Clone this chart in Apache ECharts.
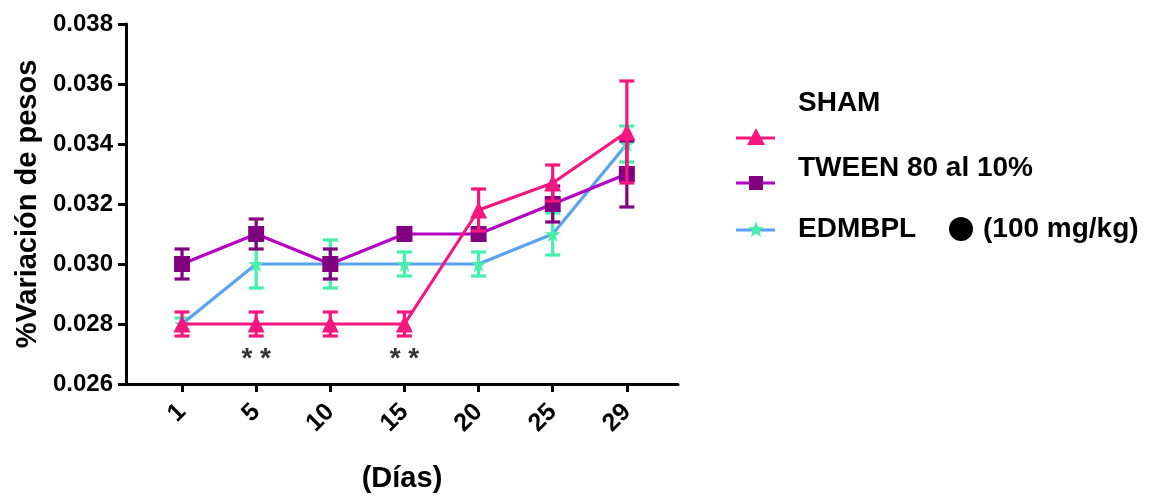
<!DOCTYPE html>
<html>
<head>
<meta charset="utf-8">
<script src="https://cdn.jsdelivr.net/npm/echarts@6/dist/echarts.min.js"></script>
<style>
  html, body { margin: 0; padding: 0; background: #fff; }
  #chart { width: 1153px; height: 495px; }
</style>
</head>
<body>
<div id="chart"></div>
<script>
// Days of measurement
const days = ['1', '5', '10', '15', '20', '25', '29'];

// Mean weight variation per group
const shamMean   = [0.0280, 0.0280, 0.0280, 0.0280, 0.0318, 0.0327, 0.0344];
const tweenMean  = [0.0300, 0.0310, 0.0300, 0.0310, 0.0310, 0.0320, 0.0330];
const edmbplMean = [0.0280, 0.0300, 0.0300, 0.0300, 0.0300, 0.0310, 0.0340];

// Error (±) per group
const shamErr   = [0.0004, 0.0004, 0.0004, 0.0004, 0.0007, 0.0006, 0.0017];
const tweenErr  = [0.0005, 0.0005, 0.0005, 0.0002, 0.0002, 0.0006, 0.0011];
const edmbplErr = [0.0002, 0.0008, 0.0008, 0.0004, 0.0004, 0.0007, 0.0006];

// Significance marks
const sigDays  = [1, 3];
const sigLevel = [0.0270, 0.0270];
const sigText  = ['* *', '* *'];

const FONT = 'Liberation Sans, Arial, sans-serif';

const pts = arr => arr.map((v, i) => [i, v]);
const errRows = (mean, err) => mean.map((m, i) => [i, m - err[i], m + err[i]]);

function errorSeries(name, mean, err, color, z) {
  return {
    name: name + ' error',
    type: 'custom',
    z: z,
    data: errRows(mean, err),
    renderItem: (params, api) => {
      const x = api.value(0);
      const lo = api.coord([x, api.value(1)]);
      const hi = api.coord([x, api.value(2)]);
      const hw = 7.5;
      const style = { stroke: color, lineWidth: 3.2 };
      return {
        type: 'group',
        children: [
          { type: 'line', shape: { x1: lo[0], y1: lo[1], x2: hi[0], y2: hi[1] }, style },
          { type: 'line', shape: { x1: lo[0] - hw, y1: lo[1], x2: lo[0] + hw, y2: lo[1] }, style },
          { type: 'line', shape: { x1: hi[0] - hw, y1: hi[1], x2: hi[0] + hw, y2: hi[1] }, style }
        ]
      };
    }
  };
}

function lineSeries(name, mean, lineColor, markColor, symbol, size, z) {
  return {
    name: name,
    type: 'line',
    z: z,
    data: pts(mean),
    symbol: symbol,
    symbolSize: size,
    showAllSymbol: true,
    lineStyle: { color: lineColor, width: 3.2 },
    itemStyle: { color: markColor },
    emphasis: { disabled: true },
    animation: false
  };
}

const STAR = 'path://M50,0 L61,35 L98,35 L68,57 L79,91 L50,70 L21,91 L32,57 L2,35 L39,35 Z';

// Five-point star outline around a centre, for the legend
function starPoints(cx, cy, R, r) {
  const out = [];
  for (let k = 0; k < 10; k++) {
    const a = -Math.PI / 2 + k * Math.PI / 5;
    const rad = k % 2 === 0 ? R : r;
    out.push([cx + rad * Math.cos(a), cy + rad * Math.sin(a)]);
  }
  return out;
}

const chart = echarts.init(document.getElementById('chart'), null, { renderer: 'canvas' });

// Legend drawn at fixed positions (symbol rows and label rows)
const legendRows = [
  { sym: 'triangle', line: '#F5167E', mark: '#F5167E', y: 138 },
  { sym: 'rect', line: '#B300C4', mark: '#800080', y: 183 },
  { sym: 'star', line: '#5AA2F2', mark: '#44F0AA', y: 230 }
];

const graphics = [];
legendRows.forEach(r => {
  graphics.push({ type: 'line', z: 10, shape: { x1: 736, y1: r.y, x2: 775, y2: r.y }, style: { stroke: r.line, lineWidth: 3.2 } });
  if (r.sym === 'triangle') {
    graphics.push({ type: 'polygon', z: 11, shape: { points: [[756, r.y - 10], [747, r.y + 7], [765, r.y + 7]] }, style: { fill: r.mark } });
  } else if (r.sym === 'rect') {
    graphics.push({ type: 'rect', z: 11, shape: { x: 749, y: r.y - 7, width: 14, height: 14 }, style: { fill: r.mark } });
  } else {
    graphics.push({ type: 'polygon', z: 11, shape: { points: starPoints(756, r.y, 8.5, 3.6) }, style: { fill: r.mark } });
  }
});
const legendTexts = [
  { text: 'SHAM', y: 103 },
  { text: 'TWEEN 80 al 10%', y: 168 },
  { text: 'EDMBPL', y: 229 }
];
legendTexts.forEach(t => {
  graphics.push({
    type: 'text', z: 10, x: 798, y: t.y,
    style: { text: t.text, fontFamily: FONT, fontWeight: 'bold', fontSize: 28, fill: '#000', verticalAlign: 'middle' }
  });
});
graphics.push({ type: 'circle', z: 10, shape: { cx: 961, cy: 229, r: 12 }, style: { fill: '#000' } });
graphics.push({
  type: 'text', z: 10, x: 983, y: 229,
  style: { text: '(100 mg/kg)', fontFamily: FONT, fontWeight: 'bold', fontSize: 28, fill: '#000', verticalAlign: 'middle' }
});

const option = {
  animation: false,
  backgroundColor: '#fff',
  grid: { left: 126, right: 475, top: 24, bottom: 111, containLabel: false, outerBoundsMode: 'none' },
  xAxis: {
    type: 'value',
    min: -0.756,
    max: 6.69,
    name: '(Días)',
    nameLocation: 'middle',
    nameGap: 80,
    nameTextStyle: { fontFamily: FONT, fontWeight: 'bold', fontSize: 29, color: '#000' },
    axisLine: { show: true, onZero: false, lineStyle: { color: '#000', width: 3 } },
    axisTick: { show: true, length: 8, lineStyle: { color: '#000', width: 3 }, customValues: [0, 1, 2, 3, 4, 5, 6] },
    axisLabel: {
      customValues: [0, 1, 2, 3, 4, 5, 6],
      formatter: v => days[Math.round(v)],
      rotate: 45,
      margin: 24,
      fontFamily: FONT, fontWeight: 'bold', fontSize: 25, color: '#000'
    },
    splitLine: { show: false }
  },
  yAxis: {
    type: 'value',
    min: 0.026,
    max: 0.038,
    interval: 0.002,
    name: '%Variación de pesos',
    nameLocation: 'middle',
    nameGap: 84,
    nameTextStyle: { fontFamily: FONT, fontWeight: 'bold', fontSize: 29, color: '#000' },
    axisLine: { show: true, onZero: false, lineStyle: { color: '#000', width: 3 } },
    axisTick: { show: true, length: 8, lineStyle: { color: '#000', width: 3 } },
    axisLabel: {
      margin: 13,
      formatter: v => v.toFixed(3),
      fontFamily: FONT, fontWeight: 'bold', fontSize: 24, color: '#000'
    },
    splitLine: { show: false }
  },
  graphic: graphics,
  series: [
    errorSeries('EDMBPL', edmbplMean, edmbplErr, '#44F0AA', 2),
    lineSeries('EDMBPL', edmbplMean, '#5AA2F2', '#44F0AA', STAR, 16, 3),
    errorSeries('TWEEN 80 al 10%', tweenMean, tweenErr, '#800080', 4),
    lineSeries('TWEEN 80 al 10%', tweenMean, '#B300C4', '#800080', 'rect', 16, 5),
    errorSeries('SHAM', shamMean, shamErr, '#F5167E', 6),
    lineSeries('SHAM', shamMean, '#F5167E', '#F5167E', 'triangle', 17, 7),
    {
      name: 'significance',
      type: 'scatter',
      z: 8,
      symbolSize: 0,
      data: sigDays.map((d, i) => ({ value: [d, sigLevel[i]], label: { formatter: sigText[i] } })),
      label: {
        show: true, position: 'inside', offset: [0, 5],
        fontFamily: FONT, fontWeight: 'bold', fontSize: 28, color: '#000'
      },
      emphasis: { disabled: true }
    }
  ]
};

chart.setOption(option);
</script>
</body>
</html>
